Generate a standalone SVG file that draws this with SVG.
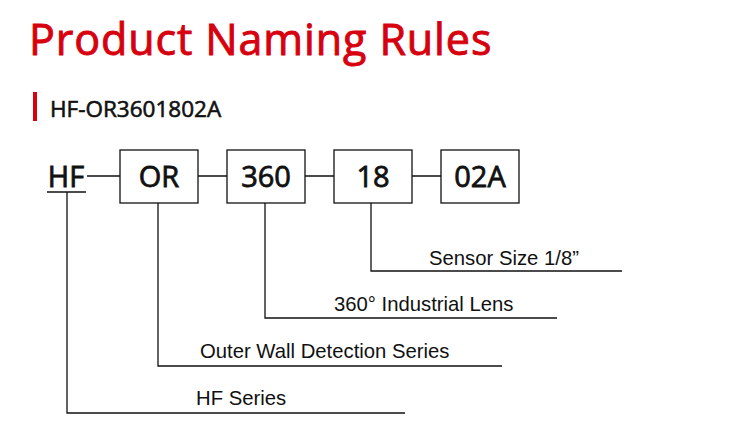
<svg xmlns="http://www.w3.org/2000/svg" width="743" height="436" viewBox="0 0 743 436">
<style>
.title{font-family:"Open Sans","Noto Sans",sans-serif;font-size:43px;fill:#d7000f;stroke:#d7000f;stroke-width:0.9px;letter-spacing:0.9px}
.sub{font-family:"Open Sans","Noto Sans",sans-serif;font-size:22.5px;fill:#111;stroke:#111;stroke-width:0.6px}
.code{font-family:"Open Sans","Noto Sans",sans-serif;font-size:29px;fill:#111;stroke:#111;stroke-width:0.8px;text-anchor:middle}
.lbl{font-family:"Liberation Sans",Arial,sans-serif;font-size:20.3px;fill:#111}
.box{fill:#fff;stroke:#111;stroke-width:1.3}
.ln{stroke:#111;stroke-width:1.3;fill:none}
</style>
<rect width="743" height="436" fill="#fff"/>
<text class="title" x="29" y="55">Product Naming Rules</text>
<rect x="33" y="92" width="4" height="29" fill="#d7000f"/>
<text class="sub" x="50" y="117">HF-OR3601802A</text>
<g id="connectors">
<path class="ln" d="M87 176H120M198 176H227M305 176H334M412 176H441"/>
<path class="ln" d="M47 192H86"/>
<path class="ln" d="M371 203V271H622"/>
<path class="ln" d="M265 203V318H557"/>
<path class="ln" d="M158 203V366H502"/>
<path class="ln" d="M67 192V413H405"/>
</g>
<g id="node-hf"><text class="code" x="66" y="187">HF</text></g>
<g id="node-or"><rect class="box" x="120" y="150" width="78" height="53"/><text class="code" x="159" y="187">OR</text></g>
<g id="node-360"><rect class="box" x="227" y="150" width="78" height="53"/><text class="code" x="266" y="187">360</text></g>
<g id="node-18"><rect class="box" x="334" y="150" width="78" height="53"/><text class="code" x="373" y="187">18</text></g>
<g id="node-02a"><rect class="box" x="441" y="150" width="78" height="53"/><text class="code" x="480" y="187">02A</text></g>
<g id="labels">
<text class="lbl" x="429" y="265">Sensor Size 1/8”</text>
<text class="lbl" x="334" y="311">360° Industrial Lens</text>
<text class="lbl" x="200" y="358">Outer Wall Detection Series</text>
<text class="lbl" x="196" y="405">HF Series</text>
</g>
</svg>
